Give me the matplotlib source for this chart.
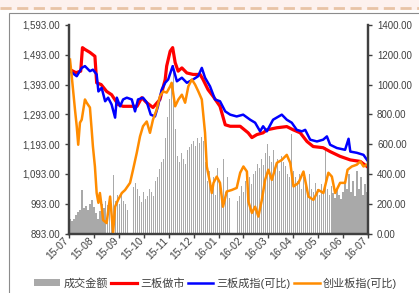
import matplotlib
matplotlib.use("Agg")
import matplotlib.pyplot as plt
import matplotlib.transforms as mtransforms
from matplotlib.patches import Rectangle, Patch
from matplotlib.lines import Line2D
import numpy as np

plt.rcParams['font.family'] = ['Liberation Sans', 'Noto Sans CJK SC', 'DejaVu Sans']

months = ['15-07', '15-08', '15-09', '15-10', '15-11', '15-12', '16-01',
          '16-02', '16-03', '16-04', '16-05', '16-06', '16-07']

# 三板做市 (month position, value on left axis)
red_m = [0.04, 0.28, 0.47, 0.54, 0.64, 0.84, 1.04, 1.11, 1.29, 1.51, 1.71, 1.97,
         2.17, 2.45, 2.73, 2.92, 3.12, 3.37, 3.65, 3.86, 3.92, 4.06, 4.16, 4.26,
         4.38, 4.53, 4.73, 4.98, 5.26, 5.38, 5.58, 5.78, 6.06, 6.27, 6.47, 6.87,
         7.19, 7.34, 7.54, 7.79, 7.94, 8.34, 8.74, 9.0, 9.28, 9.55, 9.80, 10.2,
         10.48, 10.88, 11.29, 11.69, 11.96]
red_v = [1443, 1433, 1438, 1517, 1511, 1501, 1488, 1399, 1393, 1370, 1359, 1326,
         1320, 1320, 1320, 1349, 1332, 1316, 1343, 1410, 1455, 1505, 1517, 1467,
         1438, 1449, 1432, 1427, 1427, 1410, 1376, 1354, 1320, 1258, 1253, 1253,
         1231, 1215, 1225, 1231, 1241, 1248, 1252, 1241, 1231, 1202, 1185, 1181,
         1168, 1152, 1140, 1135, 1118]

# 三板成指(可比)
blue_m = [0.04, 0.31, 0.51, 0.64, 0.84, 0.96, 1.11, 1.18, 1.31, 1.45, 1.57, 1.71,
          1.85, 1.92, 2.05, 2.17, 2.32, 2.52, 2.65, 2.77, 2.97, 3.13, 3.28, 3.45,
          3.57, 3.72, 3.86, 3.98, 4.16, 4.33, 4.53, 4.73, 4.98, 5.18, 5.33, 5.46,
          5.66, 5.86, 6.06, 6.27, 6.47, 6.73, 6.99, 7.27, 7.47, 7.67, 7.79, 7.94,
          8.19, 8.54, 8.74, 8.94, 9.14, 9.35, 9.48, 9.68, 9.95, 10.2, 10.35, 10.48,
          10.75, 11.08, 11.22, 11.29, 11.55, 11.82, 11.96]
blue_v = [1438, 1421, 1449, 1455, 1438, 1443, 1427, 1370, 1382, 1337, 1349, 1326,
          1282, 1349, 1320, 1343, 1349, 1343, 1303, 1343, 1349, 1332, 1292, 1286,
          1320, 1376, 1399, 1410, 1455, 1404, 1416, 1399, 1410, 1421, 1449, 1416,
          1387, 1343, 1337, 1303, 1292, 1286, 1292, 1275, 1265, 1236, 1253, 1236,
          1275, 1292, 1275, 1265, 1241, 1236, 1241, 1208, 1202, 1208, 1219, 1191,
          1180, 1174, 1211, 1168, 1164, 1157, 1140]

# 创业板指(可比)
orange_m = [0.04, 0.11, 0.24, 0.31, 0.37, 0.44, 0.51, 0.64, 0.71, 0.84, 0.91, 0.96,
            1.04, 1.11, 1.18, 1.24, 1.31, 1.37, 1.51, 1.65, 1.77, 1.85, 1.97, 2.12,
            2.25, 2.45, 2.57, 2.72, 2.85, 2.97, 3.12, 3.25, 3.37, 3.52, 3.65, 3.78,
            3.92, 4.06, 4.12, 4.26, 4.39, 4.53, 4.66, 4.79, 4.93, 5.06, 5.19, 5.33,
            5.46, 5.53, 5.66, 5.73, 5.80, 5.93, 6.06, 6.18, 6.33, 6.53, 6.73, 6.87,
            7.0, 7.14, 7.20, 7.34, 7.47, 7.60, 7.74, 7.87, 8.0, 8.14, 8.34, 8.54,
            8.74, 8.88, 9.01, 9.21, 9.41, 9.61, 9.81, 10.01, 10.21, 10.41, 10.55,
            10.68, 10.88, 11.08, 11.18, 11.35, 11.55, 11.69, 11.82, 11.96]
orange_v = [1477, 1421, 1309, 1253, 1191, 1265, 1275, 1343, 1332, 1316, 1241, 1185,
            1118, 1029, 996, 1029, 983, 938, 928, 1017, 895, 983, 1006, 1029,
            1039, 1063, 1107, 1164, 1219, 1253, 1269, 1231, 1275, 1309, 1354, 1370,
            1366, 1387, 1399, 1320, 1343, 1359, 1332, 1387, 1410, 1393, 1370, 1343,
            1231, 1118, 1063, 1029, 1063, 1084, 1063, 983, 1034, 1039, 1046, 1097,
            1118, 1101, 1000, 962, 983, 950, 1006, 1073, 1107, 1073, 1130, 1140,
            1157, 1130, 1051, 1063, 1101, 1017, 1006, 1039, 1029, 1097, 1084,
            1029, 1063, 1063, 1107, 1118, 1124, 1135, 1118, 1124]

# 成交金额 (right axis), evenly spaced through the period
volume = [95, 85, 100, 125, 145, 155, 290, 170, 185, 160, 200, 225, 180, 140, 100,
          150, 200, 170, 220, 190, 210, 180, 390, 220, 260, 200, 270, 220, 200, 160,
          0, 0, 310, 340, 300, 250, 210, 280, 230, 250, 300, 280, 250, 350, 380,
          430, 480, 500, 640, 780, 900, 1000, 1130, 700, 520, 480, 540, 500, 470, 560,
          580, 600, 620, 590, 640, 610, 650, 620, 480, 350, 420, 300, 380, 260, 440,
          350, 300, 500, 280, 380, 240, 0, 0, 0, 220, 250, 320, 280, 350, 300,
          380, 330, 400, 420, 470, 440, 500, 460, 540, 600, 520, 480, 560, 450, 500,
          420, 520, 480, 450, 400, 380, 670, 420, 380, 350, 400, 300, 380, 320, 280,
          400, 300, 280, 340, 300, 260, 330, 290, 580, 300, 260, 320, 270, 240, 300,
          260, 230, 280, 350, 300, 400, 280, 350, 250, 420, 300, 380, 260, 330, 280]

fig = plt.figure(figsize=(4.19, 2.93), dpi=100)

# top strip and outer frame
fig.patches.append(Rectangle((0, 1 - 10 / 293), 1, 10 / 293, transform=fig.transFigure,
                             facecolor='#fdf1ee', edgecolor='none', zorder=0))
fig.lines.append(Line2D([0, 1], [1 - 8 / 293] * 2, transform=fig.transFigure,
                        color='#e8c3a6', lw=2, linestyle=(0, (4, 2))))
fig.patches.append(Rectangle((8.5 / 419, -0.1), 1.1, 1.1 - 12.5 / 293,
                             transform=fig.transFigure, facecolor='none',
                             edgecolor='#8c8c8c', lw=0.8))

ax1 = fig.add_axes([69 / 419, 59.5 / 293, 299 / 419, 208.5 / 293])
ax2 = ax1.twinx()
ax1.set_zorder(ax2.get_zorder() + 1)
ax1.patch.set_visible(False)

xb = np.linspace(0.03, 11.97, len(volume))
ax2.bar(xb, volume, width=0.065, color='#a9a9a9', linewidth=0)

ax1.plot(red_m, red_v, color='#ff0000', lw=2.3, solid_joinstyle='round')
ax1.plot(blue_m, blue_v, color='#0000ff', lw=1.8, solid_joinstyle='round')
ax1.plot(orange_m, orange_v, color='#ff8c00', lw=1.8, solid_joinstyle='round')

ax1.set_xlim(0, 12)
ax1.set_ylim(893, 1593)
ax2.set_ylim(0, 1400)
ax1.set_yticks(np.arange(893, 1594, 100))
ax1.set_yticklabels(['{:,.2f}'.format(v) for v in np.arange(893, 1594, 100)])
ax2.set_yticks(np.arange(0, 1401, 200))
ax2.set_yticklabels(['{:.2f}'.format(v) for v in np.arange(0, 1401, 200)])

for a in (ax1, ax2):
    a.spines['top'].set_visible(False)
    for s in ('left', 'right', 'bottom'):
        a.spines[s].set_color('#404040')
        a.spines[s].set_linewidth(1.6)
    a.tick_params(colors='#404040', labelsize=7, length=3, width=1, direction='out')

# month ticks; labels written as slanted text under each tick
ax1.set_xticks(range(13))
ax1.tick_params(axis='x', labelbottom=False)
trans = mtransforms.blended_transform_factory(ax1.transData, ax1.transAxes)
offset = mtransforms.ScaledTranslation(-1.5 / 72, -4 / 72, fig.dpi_scale_trans)
for i, m in enumerate(months):
    ax1.text(i, 0, m, transform=trans + offset, rotation=45, ha='right', va='center',
             rotation_mode='anchor', fontsize=7.5, color='#404040')

handles = [Patch(facecolor='#a9a9a9', edgecolor='none'),
           Line2D([], [], color='#ff0000', lw=2.3),
           Line2D([], [], color='#0000ff', lw=1.8),
           Line2D([], [], color='#ff8c00', lw=1.8)]
labels = ['成交金额', '三板做市', '三板成指(可比)', '创业板指(可比)']
fig.legend(handles, labels, loc='center', bbox_to_anchor=(0.515, 10 / 293), ncol=4,
           frameon=False, fontsize=8, handlelength=2.3, handleheight=0.6,
           handletextpad=0.3, columnspacing=0.3, labelcolor='#404040', borderaxespad=0)

fig.savefig('out.png', dpi=100)
